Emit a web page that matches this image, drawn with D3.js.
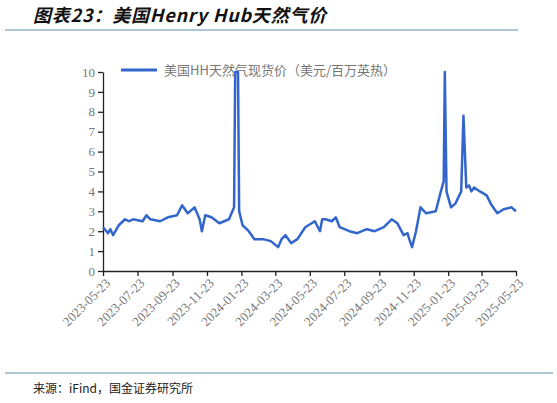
<!DOCTYPE html>
<html><head><meta charset="utf-8">
<script src="https://cdn.jsdelivr.net/npm/d3@7"></script>
<style>body{margin:0;background:#fff}</style>
</head><body>
<svg id="c" width="557" height="403"></svg>
<script>
const dates = ["2023-05-23","2023-06-01","2023-06-05","2023-06-10","2023-06-20","2023-07-01","2023-07-08","2023-07-15","2023-08-01","2023-08-08","2023-08-15","2023-09-01","2023-09-15","2023-10-01","2023-10-10","2023-10-20","2023-11-01","2023-11-10","2023-11-14","2023-11-20","2023-12-01","2023-12-15","2024-01-01","2024-01-10","2024-01-12","2024-01-17","2024-01-19","2024-01-25","2024-02-05","2024-02-15","2024-03-01","2024-03-15","2024-03-28","2024-04-03","2024-04-10","2024-04-20","2024-05-01","2024-05-15","2024-06-01","2024-06-10","2024-06-14","2024-06-20","2024-07-01","2024-07-08","2024-07-15","2024-08-01","2024-08-15","2024-09-01","2024-09-15","2024-10-01","2024-10-15","2024-10-25","2024-11-05","2024-11-12","2024-11-15","2024-11-20","2024-11-27","2024-12-05","2024-12-15","2025-01-01","2025-01-10","2025-01-15","2025-01-17","2025-01-20","2025-01-28","2025-02-05","2025-02-15","2025-02-19","2025-02-24","2025-03-01","2025-03-05","2025-03-10","2025-03-20","2025-04-01","2025-04-10","2025-04-20","2025-05-01","2025-05-15","2025-05-23"];
const prices = [2.2,1.9,2.1,1.8,2.3,2.6,2.5,2.6,2.5,2.8,2.6,2.5,2.7,2.8,3.3,2.9,3.2,2.6,2.0,2.8,2.7,2.4,2.6,3.2,10,10,3.0,2.3,2.0,1.6,1.6,1.5,1.2,1.6,1.8,1.4,1.6,2.2,2.5,2.0,2.6,2.6,2.5,2.7,2.2,2.0,1.9,2.1,2.0,2.2,2.6,2.4,1.8,1.9,1.6,1.2,2.0,3.2,2.9,3.0,4.0,4.5,10,4.0,3.2,3.4,4.0,7.8,4.2,4.3,4.0,4.2,4.0,3.8,3.3,2.9,3.1,3.2,3.0];
const tickDates = ["2023-05-23","2023-07-23","2023-09-23","2023-11-23","2024-01-23","2024-03-23","2024-05-23","2024-07-23","2024-09-23","2024-11-23","2025-01-23","2025-03-23","2025-05-23"];
const yTicks = d3.range(0, 11);
const title = "图表23：美国Henry Hub天然气价";
const seriesName = "美国HH天然气现货价（美元/百万英热）";
const source = "来源：iFind，国金证券研究所";

const parse = d3.timeParse("%Y-%m-%d");
const data = dates.map((d, i) => ({date: parse(d), v: prices[i]}));
const svg = d3.select("#c");
const serif = "'Liberation Serif','Noto Sans CJK SC',serif";

svg.append("text").attr("x", 33).attr("y", 22).text(title)
  .attr("font-size", 18).attr("font-weight", "bold").attr("font-style", "italic").attr("letter-spacing", 0.8)
  .attr("font-family", "'Noto Sans CJK SC',sans-serif").attr("fill", "#111");
svg.append("line").attr("x1", 5).attr("x2", 518).attr("y1", 30).attr("y2", 30)
  .attr("stroke", "#5a8fae").attr("stroke-width", 1);

const x = d3.scaleTime().domain([parse(tickDates[0]), parse(tickDates[12])]).range([103, 516]);
const y = d3.scaleLinear().domain([0, 10]).range([271, 72]);

const ya = svg.append("g").attr("transform", "translate(103,0)")
  .call(d3.axisLeft(y).tickValues(yTicks).tickSize(5).tickSizeOuter(0));
ya.selectAll("text").attr("font-family", serif).attr("font-size", 13).attr("fill", "#777");
const xa = svg.append("g").attr("transform", "translate(0,271)")
  .call(d3.axisBottom(x).tickValues(tickDates.map(parse)).tickFormat(d3.timeFormat("%Y-%m-%d")).tickSize(5).tickSizeOuter(0));
xa.selectAll("text").attr("font-family", serif).attr("font-size", 13).attr("fill", "#777")
  .attr("text-anchor", "end").attr("transform", "rotate(-45)").attr("dx", "-0.3em").attr("dy", "0.5em");
svg.selectAll(".domain, .tick line").attr("stroke", "#222").attr("stroke-width", 1.3);

svg.append("path").datum(data)
  .attr("d", d3.line().x(d => x(d.date)).y(d => y(d.v)))
  .attr("fill", "none").attr("stroke", "#3366cc").attr("stroke-width", 2.5).attr("stroke-linejoin", "round");

svg.append("line").attr("x1", 121).attr("x2", 157).attr("y1", 70).attr("y2", 70)
  .attr("stroke", "#3366cc").attr("stroke-width", 3);
svg.append("text").attr("x", 164).attr("y", 75).text(seriesName)
  .attr("font-family", "'Noto Sans CJK SC',serif").attr("font-size", 13).attr("fill", "#777");

svg.append("line").attr("x1", 5).attr("x2", 553).attr("y1", 373).attr("y2", 373)
  .attr("stroke", "#5a8fae").attr("stroke-width", 1);
svg.append("text").attr("x", 33).attr("y", 393).text(source)
  .attr("font-family", "'Noto Sans CJK SC',sans-serif").attr("font-size", 12).attr("fill", "#222");
</script>
</body></html>
